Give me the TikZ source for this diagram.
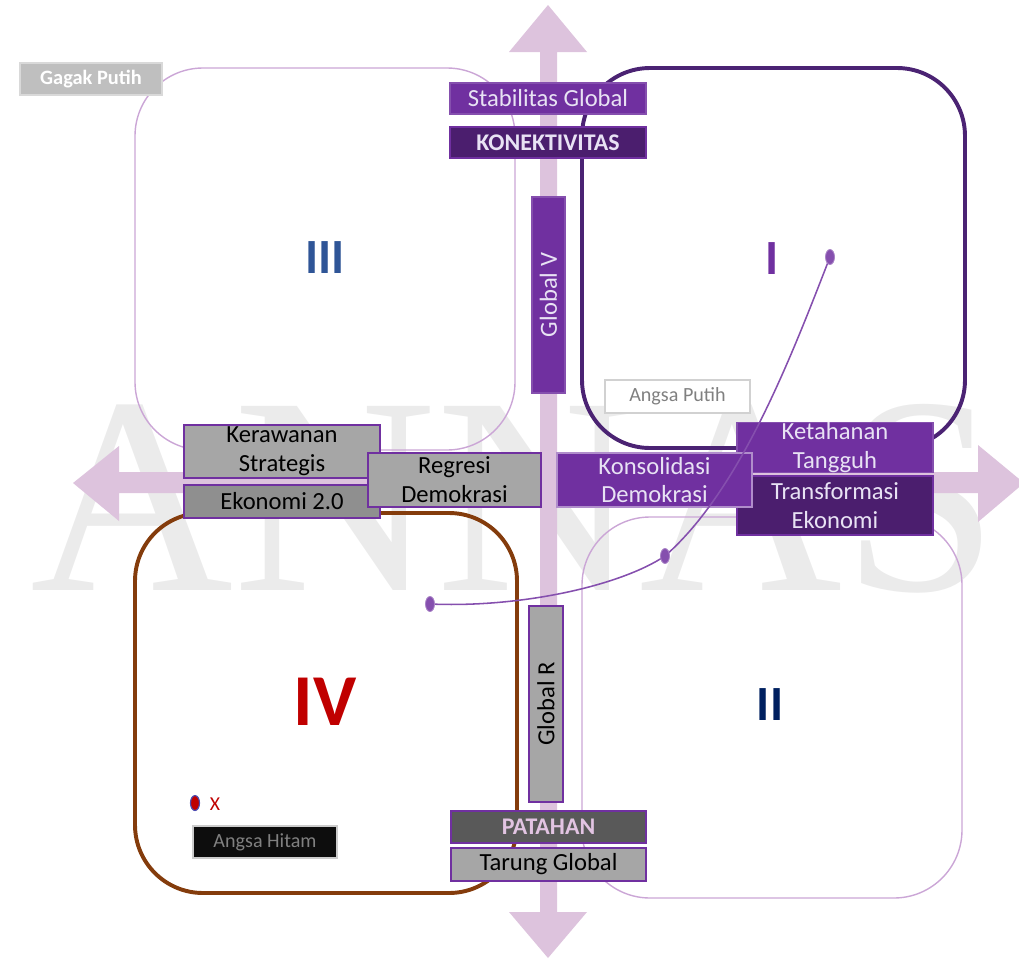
\documentclass[tikz,border=0pt]{standalone}
\usepackage{fontspec}
\setmainfont{Carlito}
\newfontfamily\wmfont{Liberation Serif}
\usetikzlibrary{shapes.geometric}

\definecolor{ungu}{HTML}{7030A0}
\definecolor{unguTua}{HTML}{4B1E6E}
\definecolor{unguPanah}{HTML}{DDC3DD}
\definecolor{garisMuda}{HTML}{CBA6D6}
\definecolor{garisTua}{HTML}{4B2373}
\definecolor{coklat}{HTML}{843C0C}
\definecolor{abu}{HTML}{A6A6A6}
\definecolor{abuTua}{HTML}{8F8F8F}
\definecolor{teksMuda}{HTML}{E8E2F4}
\definecolor{teksPink}{HTML}{E2C4E2}
\definecolor{biruTiga}{HTML}{2F5597}
\definecolor{biruDua}{HTML}{002060}
\definecolor{merahEmpat}{HTML}{C00000}

\newlength\pxu
\setlength\pxu{0.025cm}

\tikzset{
  ukuran/.style 2 args={minimum width=#1*\pxu, minimum height=#2*\pxu},
  kotak/.style={draw, line width=0.9pt, inner sep=0pt, align=center,
    font=\fontsize{17.5}{20.5}\selectfont},
  kotakUngu/.style={kotak, fill=ungu, draw=ungu!85!white, text=teksMuda},
  kotakTua/.style={kotak, fill=unguTua, draw=ungu, text=teksMuda},
  kotakAbu/.style={kotak, fill=abu, draw=ungu, text=black},
  kuadran/.style={rounded corners=1.7cm},
  angka/.style={font=\bfseries\fontsize{35}{35}\selectfont},
  titik/.style={ellipse, fill=ungu!85!white, draw=ungu!60!white, line width=0.6pt,
    inner sep=0pt, ukuran={9}{15}},
  kurva/.style={draw=ungu!85!white, line width=1.1pt}
}

\begin{document}
\begin{tikzpicture}[x=0.025cm, y=-0.025cm]
  \useasboundingbox (0,0) rectangle (1019,960);
  \clip (0,0) rectangle (1019,960);

  % watermark
  \node[anchor=base, text=black!8, inner sep=0pt,
    font=\wmfont\fontsize{200}{200}\selectfont] (wm) at (515,590) {ANNAS};

  % sumbu
  \fill[unguPanah] (540,912) -- (540,52) -- (509,52) -- (548,5) -- (587,52)
    -- (557,52) -- (557,912) -- (587,912) -- (548,958) -- (509,912) -- cycle;
  \fill[unguPanah] (119,472) -- (978,472) -- (978,445) -- (1024,483) -- (978,522)
    -- (978,493) -- (119,493) -- (119,521) -- (73,483) -- (119,446) -- cycle;

  % kuadran
  \draw[kuadran, draw=garisMuda, line width=1pt] (135,68) rectangle (515,450);
  \draw[kuadran, draw=garisTua, line width=2.8pt] (582,68) rectangle (965,448);
  \draw[kuadran, draw=coklat, line width=2.8pt] (135,513) rectangle (517,893);
  \draw[kuadran, draw=garisMuda, line width=1pt] (582,517) rectangle (962,898);

  \node[angka, text=biruTiga] (q3) at (325,258) {III};
  \node[angka, text=ungu] (q1) at (772,259) {I};
  \node[angka, text=merahEmpat, font=\bfseries\fontsize{52}{52}\selectfont] (q4) at (325,702) {IV};
  \node[angka, text=biruDua] (q2) at (770,705) {II};

  % label
  \node[kotak, ukuran={142}{32}, fill=black!25, draw=black!15, text=white,
    font=\bfseries\fontsize{14.5}{17}\selectfont] (gagak) at (91,79) {Gagak Putih};
  \node[kotakUngu, ukuran={196}{31}] (stabil) at (548,98.5) {Stabilitas Global};
  \node[kotakTua, ukuran={196}{31}, font=\bfseries\fontsize{17}{20}\selectfont] (konek) at (548,142.5) {KONEKTIVITAS};
  \node[kotakUngu, ukuran={196}{33}, rotate=90] (globalv) at (548.5,295) {Global V};
  \node[kotak, ukuran={145}{33}, fill=white, draw=black!18, text=black!50,
    font=\fontsize{14.3}{17}\selectfont] (putih) at (677.5,396.5) {Angsa Putih};

  \node[kotakAbu, ukuran={196}{53}] (rawan) at (282,451.5) {Kerawanan\\Strategis};
  \node[kotakAbu, ukuran={196}{33}, fill=abuTua] (ekon) at (282,501.5) {Ekonomi 2.0};
  \node[kotakAbu, ukuran={173}{54}] (regresi) at (454.5,480) {Regresi\\Demokrasi};

  \node[kotakUngu, ukuran={196}{49}] (tahan) at (835,447.5) {Ketahanan\\Tangguh};
  \node[kotakTua, ukuran={196}{59}] (transf) at (835,505.5) {Transformasi\\Ekonomi};
  \node[kotakUngu, ukuran={195}{54}, draw=ungu!55!white] (konsol) at (654.5,480) {Konsolidasi\\Demokrasi};

  \node[kotakAbu, ukuran={196}{34}, rotate=90] (globalr) at (546,704) {Global R};
  \node[kotak, ukuran={195}{32}, fill=black!65, draw=ungu, text=teksPink,
    font=\bfseries\fontsize{17}{20}\selectfont] (patah) at (548.5,827) {PATAHAN};
  \node[kotakAbu, ukuran={195}{33}] (tarung) at (548.5,864.5) {Tarung Global};

  \node[kotak, ukuran={144}{32}, fill=black!95, draw=black!20, text=black!50,
    font=\fontsize{14.3}{17}\selectfont] (hitam) at (265,842) {Angsa Hitam};
  \node[ellipse, fill=merahEmpat, draw=blue!40!gray, line width=0.8pt, inner sep=0pt,
    ukuran={9}{15}] (merah) at (195,803) {};
  \node[text=merahEmpat, font=\fontsize{14}{16}\selectfont, anchor=west] (x) at (205,804) {X};

  % lintasan
  \coordinate (t1) at (430,604);
  \coordinate (t2) at (665,556);
  \coordinate (t3) at (830,257);
  \draw[kurva] (t1) .. controls (520,608) and (620,586) .. (t2)
    .. controls (740,490) and (790,360) .. (t3);
  \node[titik] (d1) at (t1) {};
  \node[titik] (d2) at (t2) {};
  \node[titik] (d3) at (t3) {};
\end{tikzpicture}
\end{document}
